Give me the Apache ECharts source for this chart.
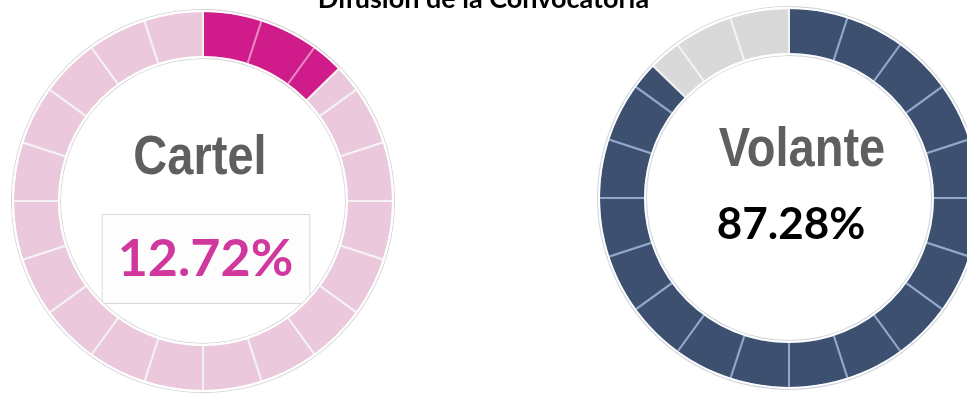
<!DOCTYPE html>
<html>
<head>
<meta charset="utf-8">
<script src="https://cdn.jsdelivr.net/npm/echarts@6/dist/echarts.min.js"></script>
<style>
  html, body { margin: 0; padding: 0; background: #ffffff; }
  #chart { width: 967px; height: 393px; }
</style>
</head>
<body>
<div id="chart"></div>
<script>
// Share of respondents by how they learned about the call
const titleText = 'Difusión de la Convocatoria';
const mediaLabels = ['Cartel', 'Volante'];
const mediaShares = [12.72, 87.28];   // percent
const segmentCount = 20;              // ring is cut into equal blocks

// Ring geometry and palette
const rings = [
  { center: [203, 201], fill: '#d01c8b', rest: '#ebc8dc', fillLine: '#e687c2', restLine: '#f3f3f3',
    nameColor: '#5f5f5f', valueColor: '#d0389e' },
  { center: [789, 198], fill: '#3d5070', rest: '#d9d9d9', fillLine: '#93a7cc', restLine: '#f3f3f3',
    nameColor: '#5f5f5f', valueColor: '#000000' }
];
const innerR = 144, outerR = 190;

// Split 0..100 at every block edge and at the share, colouring by side of the share
function buildSlices(share, ring) {
  const step = 100 / segmentCount;
  const cuts = [];
  for (let i = 0; i <= segmentCount; i++) cuts.push(+(i * step).toFixed(6));
  if (!cuts.includes(share)) cuts.push(share);
  cuts.sort((a, b) => a - b);
  const slices = [];
  for (let i = 0; i < cuts.length - 1; i++) {
    const a = cuts[i], b = cuts[i + 1];
    const filled = b <= share;
    slices.push({
      value: +(b - a).toFixed(6),
      itemStyle: {
        color: filled ? ring.fill : ring.rest,
        borderColor: filled ? ring.fillLine : ring.restLine,
        borderWidth: 2
      }
    });
  }
  return slices;
}

const series = [];
mediaShares.forEach((share, i) => {
  const ring = rings[i];
  const base = { type: 'pie', center: ring.center, startAngle: 90, silent: true,
                 label: { show: false }, labelLine: { show: false }, animation: false };
  // thin grey outline around the ring
  series.push(Object.assign({}, base, { radius: [innerR - 2, outerR + 2], z: 1,
    data: [{ value: 1, itemStyle: { color: '#d6d6d6' } }] }));
  series.push(Object.assign({}, base, { radius: [innerR - 1, outerR + 1], z: 2,
    data: [{ value: 1, itemStyle: { color: '#ffffff' } }] }));
  series.push(Object.assign({}, base, { radius: [innerR, outerR], z: 3,
    data: buildSlices(share, ring) }));
  // cover the slice outlines along the curved edges
  series.push(Object.assign({}, base, { radius: [outerR - 1, outerR + 1], z: 4,
    data: [{ value: 1, itemStyle: { color: '#ffffff' } }] }));
  series.push(Object.assign({}, base, { radius: [innerR - 1, innerR + 1], z: 4,
    data: [{ value: 1, itemStyle: { color: '#ffffff' } }] }));
});

const graphics = [];
mediaShares.forEach((share, i) => {
  const ring = rings[i];
  graphics.push({
    type: 'text', x: ring.center[0] + (i === 0 ? -3 : 13), y: ring.center[1] - (i === 0 ? 42 : 47),
    scaleX: 0.84,
    style: { text: mediaLabels[i], align: 'center', verticalAlign: 'middle',
             font: 'bold 56px "Liberation Sans", Arial, sans-serif',
             fill: ring.nameColor }
  });
});
// Cartel value sits in a light framed box
graphics.push({
  type: 'text', x: rings[0].center[0] + 3, y: rings[0].center[1] + 58,
  style: { text: mediaShares[0].toFixed(2) + '%', align: 'center', verticalAlign: 'middle',
           font: 'bold 52px Lato, sans-serif', fill: rings[0].valueColor,
           backgroundColor: '#fdfdfd', borderColor: '#d9d9d9', borderWidth: 1,
           padding: [18, 16, 18, 15] }
});
graphics.push({
  type: 'text', x: rings[1].center[0] + 2, y: rings[1].center[1] + 27,
  style: { text: mediaShares[1].toFixed(2) + '%', align: 'center', verticalAlign: 'middle',
           font: 'bold 44px Lato, sans-serif', fill: rings[1].valueColor }
});

const chart = echarts.init(document.getElementById('chart'));
chart.setOption({
  backgroundColor: '#ffffff',
  animation: false,
  title: {
    text: titleText, left: 'center', top: -19,
    textStyle: { fontFamily: 'Lato', fontWeight: 'bold', fontSize: 27, color: '#000000' }
  },
  series: series,
  graphic: graphics
});
</script>
</body>
</html>
